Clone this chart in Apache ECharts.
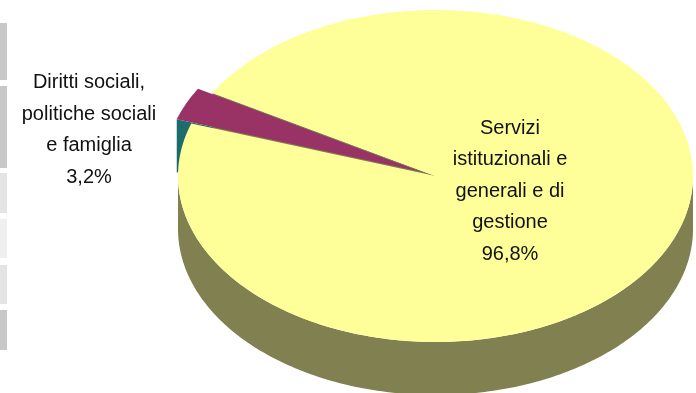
<!DOCTYPE html>
<html><head><meta charset="utf-8">
<script src="https://cdn.jsdelivr.net/npm/echarts@6/dist/echarts.min.js"></script>
<style>html,body{margin:0;padding:0;background:#fff}#c{width:696px;height:393px}</style>
</head><body><div id="c"></div>
<script>
const categories = ['Diritti sociali,\npolitiche sociali\ne famiglia', 'Servizi\nistituzionali e\ngenerali e di\ngestione'];
const values = [3.2, 96.8];
const percentLabels = ['3,2%', '96,8%'];

const topColors = ['#993366', '#FFFF99'];
const faceColors = ['#1d6b6b', '#808050'];
const explode = [0.062, 0];
const labelPos = [[89, 130], [510, 191]];

const G = { cx: 435.5, cy: 176, rx: 257.5, ry: 166, depth: 53, start: 150 };
const total = values.reduce((a, b) => a + b, 0);
const rad = d => d * Math.PI / 180;

function pt(ox, oy, a, dy) {
  return [ox + G.rx * Math.cos(rad(a)), oy - G.ry * Math.sin(rad(a)) + (dy || 0)];
}
function arc(ox, oy, a0, a1, dy) {
  const pts = [];
  const n = Math.max(2, Math.ceil(Math.abs(a1 - a0)));
  for (let k = 0; k <= n; k++) pts.push(pt(ox, oy, a0 + (a1 - a0) * k / n, dy));
  return pts;
}

function renderItem(params, api) {
  const i = params.dataIndex;
  let acc = 0;
  for (let j = 0; j < i; j++) acc += values[j];
  const a0 = G.start + acc / total * 360;
  const a1 = a0 + api.value(0) / total * 360;
  const mid = (a0 + a1) / 2;
  const ox = G.cx + explode[i] * G.rx * Math.cos(rad(mid));
  const oy = G.cy - explode[i] * G.ry * Math.sin(rad(mid));
  const children = [];
  const faceAt = (a) => ({
    type: 'polygon', z2: 1,
    shape: { points: [[ox, oy], pt(ox, oy, a), pt(ox, oy, a, G.depth), [ox, oy + G.depth]] },
    style: { fill: faceColors[i] }
  });
  if (Math.cos(rad(a0)) > 0) children.push(faceAt(a0));
  if (Math.cos(rad(a1)) < 0) children.push(faceAt(a1));
  for (let s = -360; s <= 360; s += 360) {
    const lo = Math.max(a0, 180 + s), hi = Math.min(a1, 360 + s);
    if (hi > lo) {
      const top = arc(ox, oy, lo, hi, 0);
      const bot = arc(ox, oy, hi, lo, G.depth);
      children.push({ type: 'polygon', z2: 2, shape: { points: top.concat(bot) }, style: { fill: faceColors[i] } });
    }
  }
  children.push({
    type: 'polygon', z2: i === 0 ? 4 : 3,
    shape: { points: [[ox, oy]].concat(arc(ox, oy, a0, a1, 0)) },
    style: { fill: topColors[i] }
  });
  children.push({
    type: 'text', z2: 10,
    style: {
      text: categories[i] + '\n' + percentLabels[i],
      x: labelPos[i][0], y: labelPos[i][1],
      textAlign: 'center', textVerticalAlign: 'middle',
      font: '20px "Liberation Sans", Arial, sans-serif',
      lineHeight: 31.5, fill: '#111'
    }
  });
  return { type: 'group', children };
}

const bars = [[23, 80, '#c8c8c8'], [86, 168, '#c8c8c8'], [173, 213, '#e4e4e4'], [219, 258, '#efefef'], [265, 304, '#e4e4e4'], [310, 350, '#c8c8c8']];

const chart = echarts.init(document.getElementById('c'), null, { renderer: 'canvas' });
chart.setOption({
  animation: false,
  backgroundColor: '#fff',
  graphic: bars.map(b => ({ type: 'rect', shape: { x: 0, y: b[0], width: 7, height: b[1] - b[0] }, style: { fill: b[2] } })),
  series: [{
    type: 'custom',
    coordinateSystem: 'none',
    renderItem: renderItem,
    data: values.map(v => [v])
  }]
});
</script>
</body></html>
